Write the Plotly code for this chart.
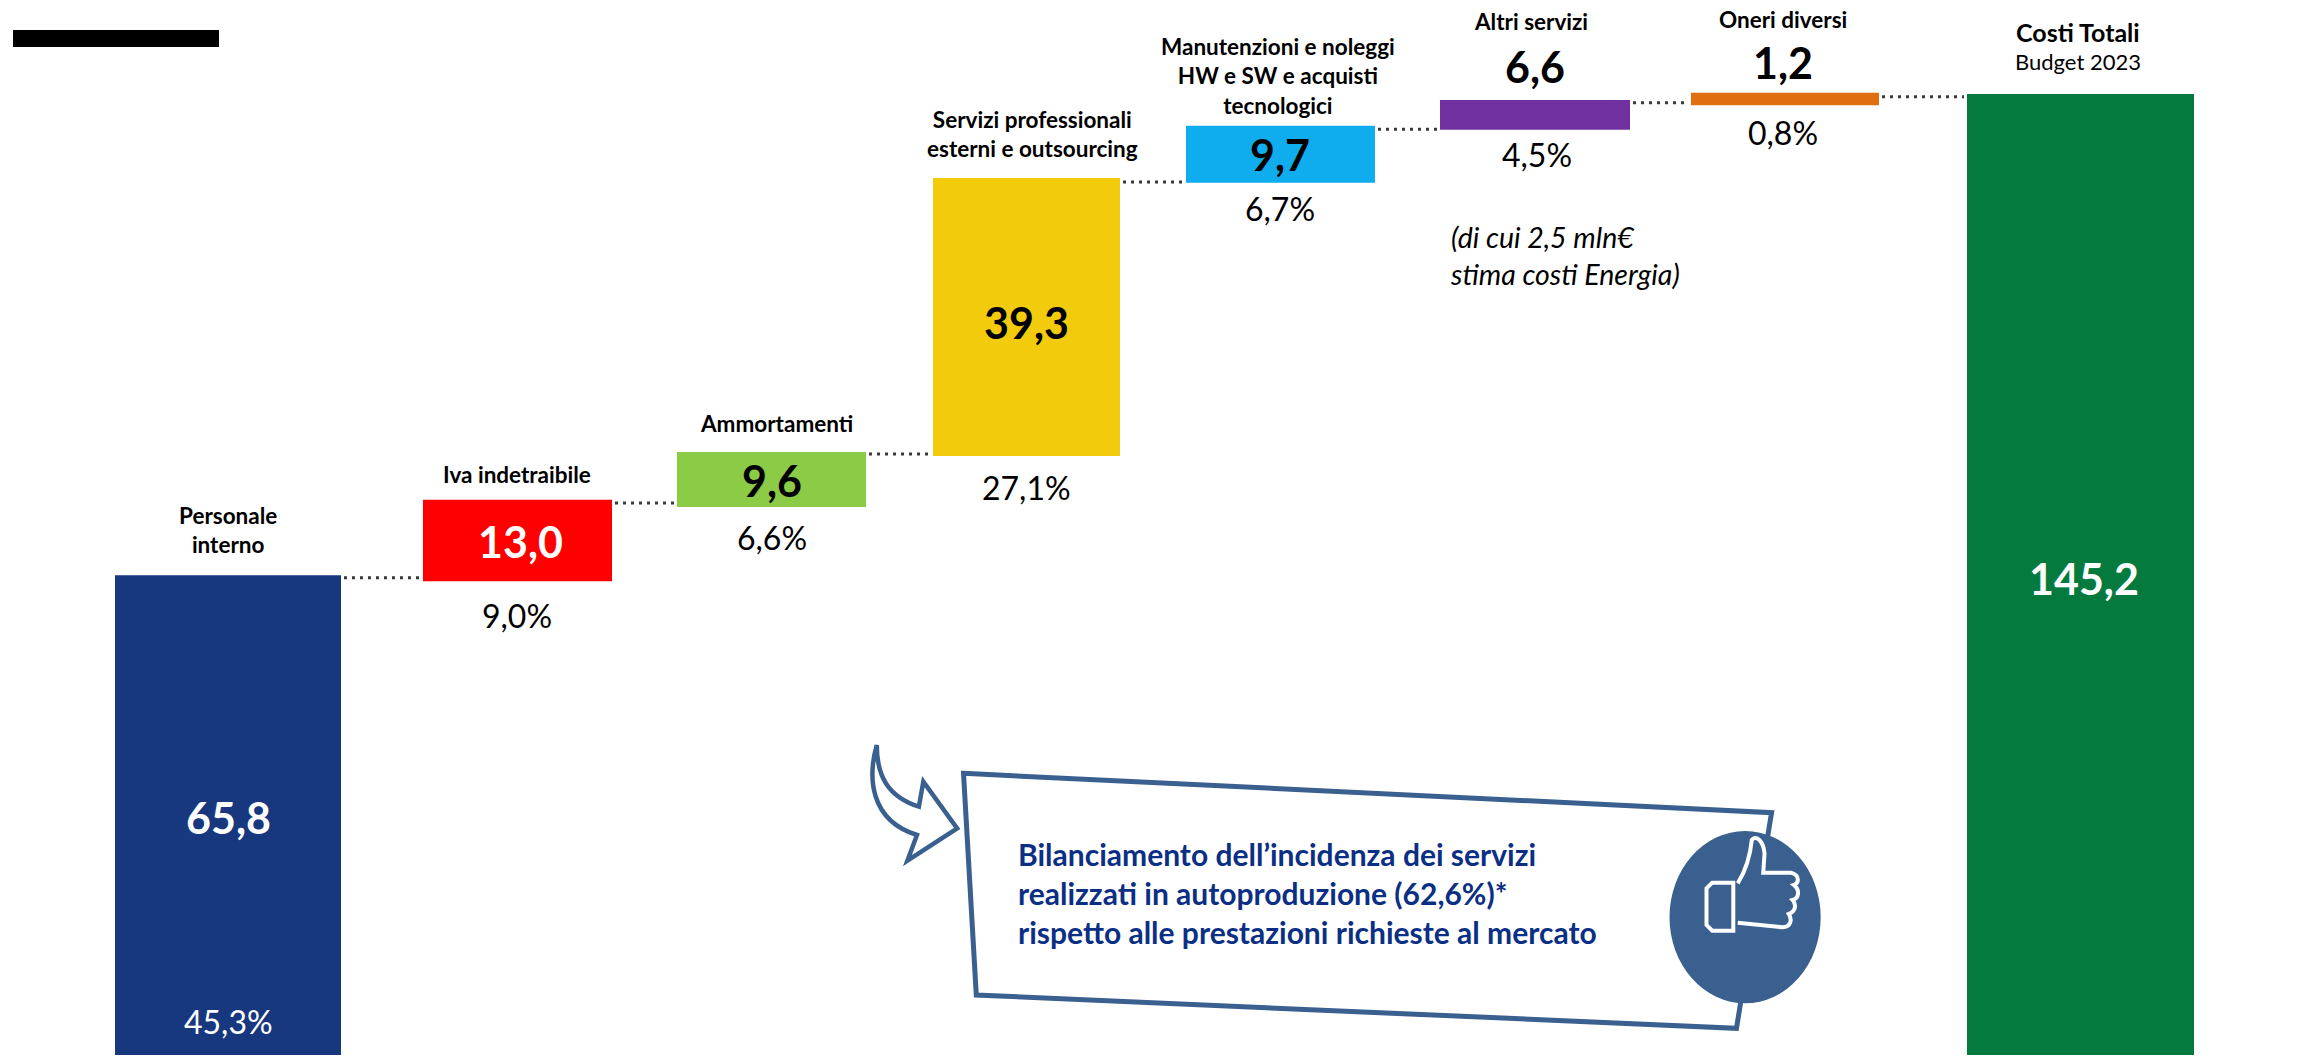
import plotly.graph_objects as go

# ---------- data ----------
categories = ["Personale interno", "Iva indetraibile", "Ammortamenti",
              "Servizi professionali esterni e outsourcing",
              "Manutenzioni e noleggi HW e SW e acquisti tecnologici",
              "Altri servizi", "Oneri diversi", "Costi Totali"]
value_labels = ["65,8", "13,0", "9,6", "39,3", "9,7", "6,6", "1,2", "145,2"]
share_labels = ["45,3%", "9,0%", "6,6%", "27,1%", "6,7%", "4,5%", "0,8%"]
# drawn extents of each block, in the units of the total bar (the picture is not strictly to scale)
bar_low = [0, 71.6, 82.8, 90.5, 131.8, 139.8, 143.5, 0]
bar_high = [72.5, 83.9, 91.1, 132.5, 140.4, 144.3, 145.4, 145.2]
connector_level = [72.1, 83.4, 90.8, 131.9, 139.9, 143.9, 144.8]

# ---------- layout and style ----------
W, H = 2305, 1062
Y_BASE, Y_SCALE = 1055, 6.618
bar_center = [228, 517.5, 771.5, 1026.5, 1280.5, 1535, 1785, 2080.5]
bar_width = [226, 189, 189, 187, 189, 190, 188, 227]
bar_color = ["#17377F", "#FF0000", "#8CCB45", "#F2CB0C", "#0FADEE", "#7030A0", "#DF6F10", "#047A3F"]
FONT = "Lato"
BLUE = "#3A6090"


def px(x):
    return x / W


def py(y):
    return 1 - y / H


def zx(v):
    return 850 + v / 1.568


def zy(v):
    return 720 + v / 3


def path(cmds):
    out = []
    for c in cmds:
        if isinstance(c, str):
            out.append(c)
        else:
            out.append(f"{px(zx(c[0])):.5f},{py(zy(c[1])):.5f}")
    return " ".join(out)


fig = go.Figure()
fig.add_trace(go.Bar(
    x=bar_center,
    y=[h - l for h, l in zip(bar_high, bar_low)],
    base=bar_low,
    width=bar_width,
    marker=dict(color=bar_color, line=dict(width=0)),
    customdata=categories,
    hovertemplate="%{customdata}<extra></extra>",
))

cx, cy = [], []
for i, lvl in enumerate(connector_level):
    cx += [bar_center[i] + bar_width[i] / 2 + 3, bar_center[i + 1] - bar_width[i + 1] / 2 - 3, None]
    cy += [lvl, lvl, None]
fig.add_trace(go.Scatter(x=cx, y=cy, mode="lines", hoverinfo="skip",
                         line=dict(color="#3A3A3A", width=3, dash="3px,5px")))

annotations = []


def label(text, x, y, size, color="black", bold=False, italic=False, align="center"):
    t = text
    if bold:
        t = f"<b>{t}</b>"
    if italic:
        t = f"<i>{t}</i>"
    annotations.append(dict(
        text=t, x=px(x), y=py(y), xref="paper", yref="paper", showarrow=False,
        xanchor={"center": "center", "left": "left"}[align], yanchor="middle", align=align,
        font=dict(family=FONT, size=size, color=color),
    ))


# category captions
CAP = 22.5
label("Personale<br>interno", 228, 530, CAP, bold=True)
label("Iva indetraibile", 517, 474, CAP, bold=True)
label("Ammortamenti", 776, 423, CAP, bold=True)
label("Servizi professionali<br>esterni e outsourcing", 1032, 134, CAP, bold=True)
label("Manutenzioni e noleggi<br>HW e SW e acquisti<br>tecnologici", 1278, 76, CAP, bold=True)
label("Altri servizi", 1531, 22, CAP, bold=True)
label("Oneri diversi", 1783, 20, CAP, bold=True)
label("Costi Totali", 2078, 32, 25, bold=True)
label("Budget 2023", 2078, 62, 22)

# values
val_pos = [(228, 817), (520, 541), (772, 481), (1026, 323), (1280, 155), (1535, 67), (1783, 63), (2084, 578)]
val_col = ["white", "white", "black", "black", "black", "black", "black", "white"]
for t, (x, y), c in zip(value_labels, val_pos, val_col):
    label(t, x, y, 43, color=c, bold=True)

# shares
share_pos = [(228, 1021), (517, 615), (772, 537), (1026, 487), (1280, 208), (1537, 155), (1783, 133)]
share_col = ["white"] + ["black"] * 6
for t, (x, y), c in zip(share_labels, share_pos, share_col):
    label(t, x, y, 32, color=c)

label("(di cui 2,5 mln€<br>stima costi Energia)", 1448, 256, 28.5, italic=True, align="left")
label("Bilanciamento dell’incidenza dei servizi<br>realizzati in autoproduzione (62,6%)*<br>"
      "rispetto alle prestazioni richieste al mercato",
      1016, 893, 30, color="#0B2F84", bold=True, align="left")

shapes = [
    # black redaction bar
    dict(type="rect", xref="paper", yref="paper", x0=px(13), x1=px(219), y0=py(30), y1=py(47),
         fillcolor="black", line=dict(width=0)),
    # callout frame
    dict(type="path", xref="paper", yref="paper",
         path=path(["M", (178, 160), "L", (1445, 278), "L", (1390, 925), "L", (198, 825), "Z"]),
         fillcolor="white", line=dict(color=BLUE, width=5), layer="above"),
    # thumb circle
    dict(type="circle", xref="paper", yref="paper", x0=px(zx(1285)), x1=px(zx(1522)),
         y0=py(zy(333)), y1=py(zy(850)), fillcolor=BLUE, line=dict(width=0), layer="above"),
    # arrow
    dict(type="path", xref="paper", yref="paper",
         path=path(["M", (42, 75), "C", (28, 170), (30, 300), (105, 345),
                    "L", (90, 422), "L", (168, 325), "L", (115, 185), "L", (108, 260),
                    "C", (60, 230), (42, 170), (42, 75), "Z"]),
         fillcolor="white", line=dict(color=BLUE, width=4.5), layer="above"),
    # thumb icon: cuff
    dict(type="path", xref="paper", yref="paper",
         path=path(["M", (1352, 488), "L", (1385, 488), "L", (1385, 632), "L", (1352, 632),
                    "L", (1343, 615), "L", (1343, 505), "Z"]),
         fillcolor="rgba(0,0,0,0)", line=dict(color="white", width=4), layer="above"),
    # thumb icon: hand
    dict(type="path", xref="paper", yref="paper",
         path=path(["M", (1392, 490), "C", (1405, 450), (1412, 400), (1414, 360),
                    "C", (1420, 345), (1432, 360), (1434, 400), "L", (1432, 458),
                    "L", (1475, 458), "C", (1490, 465), (1488, 490), (1480, 495),
                    "C", (1490, 510), (1488, 535), (1478, 540),
                    "C", (1485, 555), (1482, 575), (1472, 582),
                    "C", (1478, 600), (1475, 620), (1462, 622),
                    "L", (1392, 608)]),
         fillcolor="rgba(0,0,0,0)", line=dict(color="white", width=4), layer="above"),
]

fig.update_layout(
    width=W, height=H,
    margin=dict(l=0, r=0, t=0, b=0),
    paper_bgcolor="white", plot_bgcolor="white",
    showlegend=False,
    xaxis=dict(range=[0, W], visible=False, fixedrange=True),
    yaxis=dict(range=[(Y_BASE - H) / Y_SCALE, Y_BASE / Y_SCALE], visible=False, fixedrange=True),
    annotations=annotations,
    shapes=shapes,
)

fig.write_html("out.html", config={"displayModeBar": False},
               post_script="document.body.style.margin='0';document.body.style.overflow='hidden';")
